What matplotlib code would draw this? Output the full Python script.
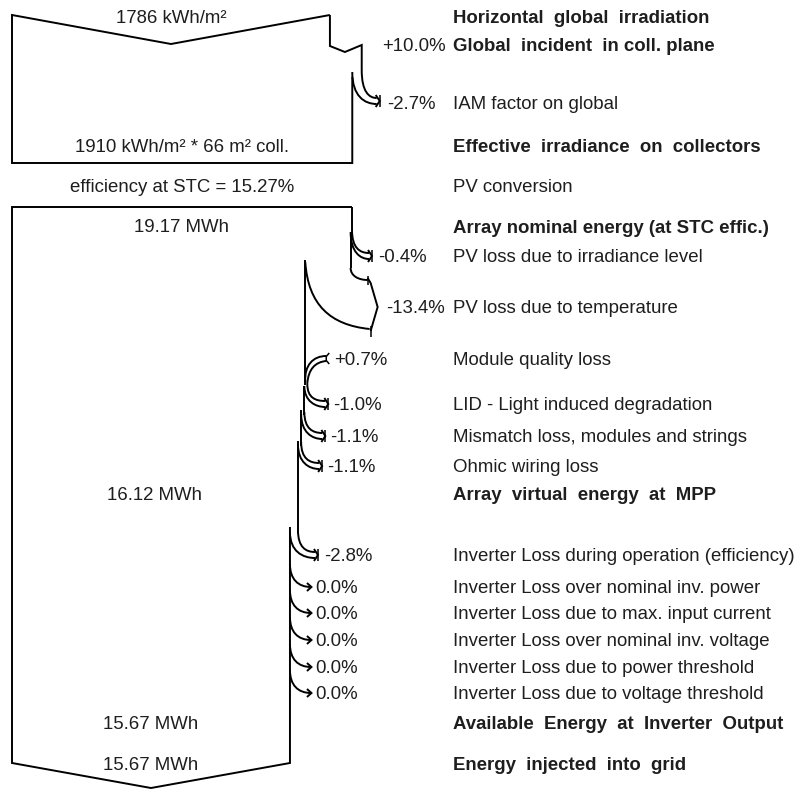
import matplotlib
matplotlib.use("Agg")
import matplotlib.pyplot as plt
from matplotlib.path import Path
from matplotlib.patches import PathPatch

# ---------------- data ----------------
horiz_irr = 1786          # kWh/m2
eff_irr = 1910            # kWh/m2
coll_area = 66            # m2
top_pcts = [10.0, -2.7]   # global incident gain, IAM
top_labels = ["Global  incident  in coll. plane", "IAM factor on global"]
stc_eff = 15.27
e_nominal = 19.17
e_virtual = 16.12
e_available = 15.67
e_grid = 15.67
array_pcts = [-0.4, -13.4, 0.7, -1.0, -1.1, -1.1]
array_labels = ["PV loss due to irradiance level", "PV loss due to temperature",
                "Module quality loss", "LID - Light induced degradation",
                "Mismatch loss, modules and strings", "Ohmic wiring loss"]
inv_pcts = [-2.8, 0.0, 0.0, 0.0, 0.0, 0.0]
inv_labels = ["Inverter Loss during operation (efficiency)",
              "Inverter Loss over nominal inv. power",
              "Inverter Loss due to max. input current",
              "Inverter Loss over nominal inv. voltage",
              "Inverter Loss due to power threshold",
              "Inverter Loss due to voltage threshold"]

# ---------------- layout ----------------
W, H = 802, 790
fig = plt.figure(figsize=(W / 100, H / 100), dpi=100)
ax = fig.add_axes([0, 0, 1, 1])
ax.set_xlim(0, W)
ax.set_ylim(H, 0)
ax.axis("off")

FONT = "Liberation Sans"
TXT = "#1e1e1e"
FS = 13.4
LW = 1.4
X0 = 12
WREF = 340.0
LBLX = 453
DY = 1.5

def line(xs, ys, lw=LW):
    ax.plot(xs, ys, color="black", lw=lw, solid_capstyle="butt", solid_joinstyle="miter")

def bez(p0, p1, p2, p3, lw=LW):
    path = Path([p0, p1, p2, p3], [Path.MOVETO, Path.CURVE4, Path.CURVE4, Path.CURVE4])
    ax.add_patch(PathPatch(path, fill=False, edgecolor="black", lw=lw))

def txt(x, y, s, bold=False, ha="left"):
    ax.text(x, y + DY, s, fontsize=FS, family=FONT, color=TXT, ha=ha, va="center",
            fontweight="bold" if bold else "normal")

def pct(v):
    if v == 0:
        return "0.0%"
    return ("+" if v > 0 else "") + "%.1f%%" % v

def head(tx, ty, hw):
    line([tx - 4, tx, tx - 4], [ty - hw - 3, ty, ty + hw + 3])
    line([tx, tx], [ty - hw - 3, ty + hw + 3], lw=1.1)

def band_loss(x_old, x_new, ys, yt, tx):
    hw = 3.0
    bez((x_old, ys), (x_old, ys + 0.7 * (yt - ys)), (x_old + 0.4 * (tx - x_old), yt - hw),
        (tx - 3, yt - hw))
    bez((x_new, ys + 2), (x_new, ys + 0.85 * (yt - ys)), (x_new + 0.45 * (tx - x_new), yt + hw),
        (tx - 3, yt + hw))
    head(tx, yt, hw)

# ---------------- top block (irradiation) ----------------
sc_top = WREF / eff_irr
x_h = X0 + horiz_irr * sc_top
x_g = X0 + horiz_irr * (1 + top_pcts[0] / 100) * sc_top
x_e = X0 + horiz_irr * (1 + top_pcts[0] / 100) * (1 + top_pcts[1] / 100) * sc_top
xc = (X0 + x_h) / 2
line([x_h, xc, X0, X0, x_e, x_e], [15, 44, 15, 163, 163, 77])
line([x_h, x_h, x_h + 15, x_g, x_g], [15, 46, 52, 45, 70])
band_loss(x_g, x_e, 70, 101, x_g + 18)

txt(xc, 17, "%d kWh/m²" % horiz_irr, ha="center")
txt((X0 + x_e) / 2, 146, "%d kWh/m² * %d m² coll." % (eff_irr, coll_area), ha="center")
txt((X0 + x_e) / 2, 186, "efficiency at STC = %.2f%%" % stc_eff, ha="center")
txt(382, 45, pct(top_pcts[0]))
txt(387, 103, pct(top_pcts[1]))

txt(LBLX, 17, "Horizontal  global  irradiation", bold=True)
txt(LBLX, 45, top_labels[0], bold=True)
txt(LBLX, 103, top_labels[1])
txt(LBLX, 146, "Effective  irradiance  on  collectors", bold=True)
txt(LBLX, 186, "PV conversion")

# ---------------- energy block ----------------
sc_e = WREF / e_nominal
xs = [X0 + WREF]
v = e_nominal
for p in array_pcts + inv_pcts:
    v = v * (1 + p / 100)
    xs.append(X0 + v * sc_e)
x_top = xs[0]
x_bot = xs[-1]
xcb = (X0 + x_bot) / 2

# outline: top, left side, bottom V
line([x_top, x_top], [207, 230])
line([x_top, X0, X0, xcb, x_bot, x_bot], [207, 207, 763, 788, 763, 527])

array_y = [256, 307, 359, 404, 436, 466]
inv_y = [555, 587, 613, 640, 667, 693]

# -0.4% irradiance level
band_loss(xs[0], xs[1], 230, array_y[0], xs[0] + 20)
line([xs[1], xs[1]], [232, 268])
# -13.4% temperature (bracket shape)
xo, xn = xs[1], xs[2]
bez((xo, 268), (xo, 276), (xo + 8, 280), (xo + 17, 280))
line([xo + 17, xo + 20, xo + 27, xo + 20], [278, 283, 307, 331])
line([xo + 17, xo + 17], [276, 285], lw=1.1)
line([xo + 20, xo + 20], [326, 337], lw=1.1)
bez((xn, 262), (xn + 3, 305), (xn + 25, 325), (xo + 19, 329))
txt(xo + 35, array_y[1], pct(array_pcts[1]))
line([xn, xn], [260, 385])
# +0.7% module quality (gain, curving upwards)
xq = xs[3]
tq = xn + 23
bez((xn, 382), (xn - 1, 365), (xn + 8, 356), (tq - 2, 356))
bez((xn + 2, 384), (xn + 3, 369), (xn + 10, 362), (tq - 2, 361))
line([tq + 1, tq - 2, tq - 2, tq + 1], [353, 356.5, 360.5, 364], lw=1.1)
txt(tq + 6, array_y[2], pct(array_pcts[2]))
# -1.0% LID
band_loss(xq, xs[4], 384, array_y[3], xq + 21)
line([xs[4], xs[4]], [386, 415])
# mismatch / ohmic
band_loss(xs[4], xs[5], 412, array_y[4], xs[4] + 21)
line([xs[5], xs[5]], [410, 446])
band_loss(xs[5], xs[6], 442, array_y[5], xs[5] + 21)
line([xs[6], xs[6]], [441, 530])

for i in (0, 3, 4, 5):
    txt(xs[i] + 26, array_y[i], pct(array_pcts[i]))
for i, lab in enumerate(array_labels):
    txt(LBLX, array_y[i], lab)

# inverter losses
band_loss(xs[6], xs[7], 530, inv_y[0], xs[6] + 20)
txt(xs[6] + 26, inv_y[0], pct(inv_pcts[0]))
for k in range(1, len(inv_pcts)):
    yk = inv_y[k]
    xe = xs[6 + k + 1]
    bez((xe, yk - 23), (xe, yk - 8), (xe + 8, yk), (xe + 21, yk))
    line([xe + 17, xe + 21.5, xe + 17], [yk - 4, yk, yk + 4])
    txt(xe + 25, yk, pct(inv_pcts[k]))
for k, lab in enumerate(inv_labels):
    txt(LBLX, inv_y[k], lab)

txt((X0 + x_top) / 2, 226, "%.2f MWh" % e_nominal, ha="center")
txt((X0 + xs[6]) / 2, 494, "%.2f MWh" % e_virtual, ha="center")
txt(xcb, 723, "%.2f MWh" % e_available, ha="center")
txt(xcb, 764, "%.2f MWh" % e_grid, ha="center")

txt(LBLX, 227, "Array nominal energy (at STC effic.)", bold=True)
txt(LBLX, 494, "Array  virtual  energy  at  MPP", bold=True)
txt(LBLX, 723, "Available  Energy  at  Inverter  Output", bold=True)
txt(LBLX, 764, "Energy  injected  into  grid", bold=True)

fig.savefig("out.png", dpi=100, facecolor="white")
